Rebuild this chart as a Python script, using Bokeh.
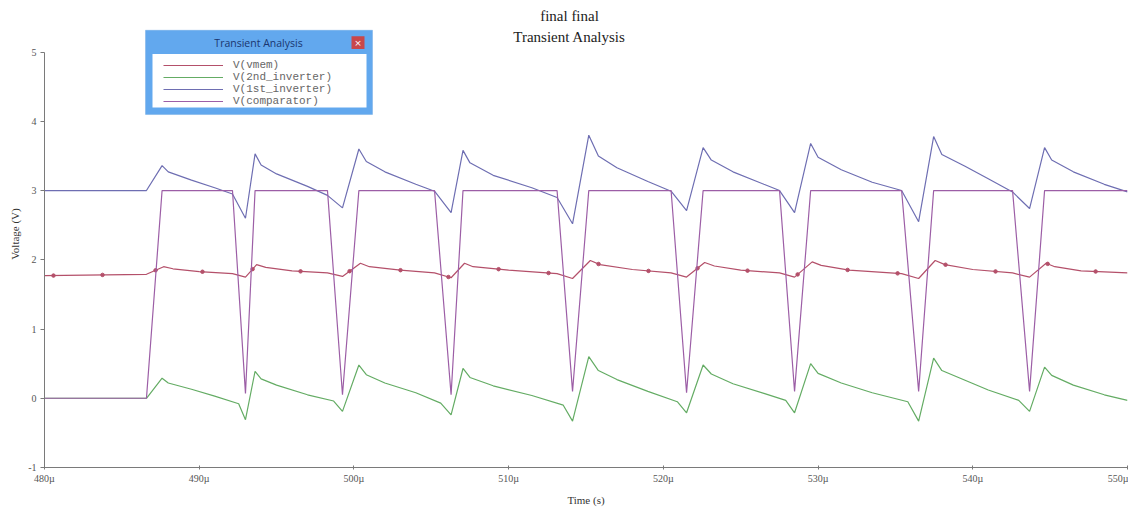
import numpy as np
from bokeh.plotting import figure
from bokeh.models import (Range1d, FixedTicker, Label, BoxAnnotation, Legend,
                          LegendItem)
from bokeh.embed import file_html
from bokeh.resources import INLINE

# ---------------- data (time in µs, voltage in V) ----------------
time_ticks = [480, 490, 500, 510, 520, 530, 540, 550]
time_tick_labels = ["480µ", "490µ", "500µ", "510µ", "520µ", "530µ", "540µ", "550µ"]
volt_ticks = [-1, 0, 1, 2, 3, 4, 5]
volt_tick_labels = ["-1", "0", "1", "2", "3", "4", "5"]

comparator_t = [480, 486.59, 487.60, 492.15, 492.99, 493.61, 498.29, 499.26, 500.32,
                505.21, 506.28, 507.05, 513.13, 514.13, 515.18, 520.50, 521.50, 522.57,
                527.51, 528.48, 529.52, 535.40, 536.50, 537.47, 542.57, 543.67, 544.64, 550]
comparator_v = [0.0, 0.0, 3.0, 3.0, 0.07, 3.0, 3.0, 0.05, 3.0,
                3.0, 0.05, 3.0, 3.0, 0.10, 3.0, 3.0, 0.08, 3.0,
                3.0, 0.10, 3.0, 3.0, 0.10, 3.0, 3.0, 0.10, 3.0, 3.0]

inv1_t = [480, 486.59, 487.60, 488.0, 489.5, 491.0, 492.15, 492.99,
          493.61, 494.0, 495.0, 497.0, 498.29, 499.26,
          500.32, 500.8, 502.0, 504.0, 505.21, 506.28,
          507.05, 507.5, 509.0, 511.5, 513.13, 514.13,
          515.18, 515.8, 517.0, 519.0, 520.50, 521.50,
          522.57, 523.1, 524.5, 526.5, 527.51, 528.48,
          529.52, 530.0, 531.5, 533.5, 535.40, 536.50,
          537.47, 538.0, 539.5, 541.0, 542.57, 543.67,
          544.64, 545.1, 546.5, 548.5, 550]
inv1_v = [3.0, 3.0, 3.36, 3.27, 3.15, 3.04, 2.95, 2.60,
          3.53, 3.37, 3.24, 3.06, 2.93, 2.75,
          3.60, 3.42, 3.27, 3.09, 2.99, 2.68,
          3.58, 3.40, 3.22, 3.04, 2.90, 2.52,
          3.80, 3.50, 3.33, 3.13, 2.99, 2.71,
          3.62, 3.44, 3.27, 3.09, 3.00, 2.68,
          3.68, 3.48, 3.30, 3.12, 3.00, 2.55,
          3.78, 3.52, 3.35, 3.17, 2.98, 2.74,
          3.62, 3.44, 3.27, 3.09, 2.98]

inv2_t = [480, 486.59, 487.60, 488.0, 489.5, 491.0, 492.55, 492.99,
          493.61, 494.0, 495.0, 497.0, 498.69, 499.26,
          500.32, 500.8, 502.0, 504.0, 505.61, 506.28,
          507.05, 507.5, 509.0, 511.5, 513.53, 514.13,
          515.18, 515.8, 517.0, 519.0, 520.90, 521.50,
          522.57, 523.1, 524.5, 526.5, 527.91, 528.48,
          529.52, 530.0, 531.5, 533.5, 535.80, 536.50,
          537.47, 538.0, 539.5, 541.0, 542.97, 543.67,
          544.64, 545.1, 546.5, 548.5, 550]
inv2_v = [0.0, 0.0, 0.29, 0.22, 0.13, 0.03, -0.08, -0.31,
          0.39, 0.28, 0.19, 0.05, -0.04, -0.19,
          0.48, 0.34, 0.22, 0.08, -0.07, -0.24,
          0.43, 0.30, 0.18, 0.04, -0.10, -0.33,
          0.60, 0.40, 0.27, 0.10, -0.05, -0.21,
          0.48, 0.35, 0.21, 0.07, -0.03, -0.21,
          0.50, 0.36, 0.22, 0.08, -0.05, -0.33,
          0.58, 0.40, 0.26, 0.12, -0.03, -0.19,
          0.45, 0.33, 0.19, 0.05, -0.03]

vmem_t = [480, 486.59, 487.70, 488.3, 490.0, 492.15, 492.99,
          493.71, 494.3, 496.0, 498.29, 499.26,
          500.42, 501.0, 503.0, 505.21, 506.28,
          507.15, 507.7, 510.0, 513.13, 514.13,
          515.28, 515.9, 518.0, 520.50, 521.50,
          522.67, 523.3, 525.0, 527.51, 528.48,
          529.62, 530.2, 532.0, 535.40, 536.50,
          537.57, 538.2, 540.0, 542.57, 543.67,
          544.74, 545.3, 547.0, 550]
vmem_v = [1.77, 1.79, 1.90, 1.87, 1.83, 1.80, 1.75,
          1.93, 1.89, 1.84, 1.81, 1.76,
          1.95, 1.90, 1.85, 1.81, 1.74,
          1.95, 1.90, 1.85, 1.80, 1.73,
          1.99, 1.93, 1.86, 1.81, 1.75,
          1.96, 1.91, 1.85, 1.81, 1.75,
          1.97, 1.92, 1.85, 1.80, 1.73,
          1.99, 1.93, 1.86, 1.81, 1.75,
          1.95, 1.90, 1.84, 1.81]
vmem_marker_t = [480.58, 483.75, 487.18, 490.21, 493.45, 496.55, 499.72, 503.01,
                 506.11, 509.35, 512.58, 515.81, 519.04, 522.21, 525.44, 528.68,
                 531.91, 535.14, 538.24, 541.47, 544.84, 547.94]

series_names = ["V(vmem)", "V(2nd_inverter)", "V(1st_inverter)", "V(comparator)"]

# ---------------- styling ----------------
C_VMEM = "#b4506a"
C_INV2 = "#64ac64"
C_INV1 = "#6e6eb2"
C_COMP = "#9c5ea6"

W, H = 1128, 508
FL, FR, FB = 44, 1127, 471
AX_TOP = 52                     # pixel row of the 5 V tick
X0, X1, Y0, YMAX = 480, 550, -1, 5
PX_PER_V = (FB - AX_TOP) / (YMAX - Y0)
Y1 = YMAX + AX_TOP / PX_PER_V   # frame reaches the top of the canvas


def tx(px):
    return X0 + (px - FL) * (X1 - X0) / (FR - FL)


def vy(py):
    return Y1 - py / PX_PER_V


p = figure(width=W, height=H, output_backend="svg", toolbar_location=None,
           x_range=Range1d(X0, X1), y_range=Range1d(Y0, Y1),
           min_border_left=FL, min_border_right=W - FR,
           min_border_top=0, min_border_bottom=H - FB)
p.outline_line_color = None
p.grid.visible = False
p.background_fill_color = "white"
p.border_fill_color = "white"

SERIF = "Liberation Serif"
for ax in (p.xaxis[0], p.yaxis[0]):
    ax.axis_line_color = "#7a7a7a"
    ax.major_tick_line_color = "#7a7a7a"
    ax.minor_tick_line_color = None
    ax.major_label_text_font = SERIF
    ax.major_label_text_font_size = "10px"
    ax.major_label_text_color = "#555555"
    ax.axis_label_text_font = SERIF
    ax.axis_label_text_font_size = "11px"
    ax.axis_label_text_font_style = "normal"
    ax.axis_label_text_color = "#333333"

p.xaxis.ticker = FixedTicker(ticks=time_ticks)
p.xaxis.major_label_overrides = dict(zip(time_ticks, time_tick_labels))
p.xaxis.major_tick_in = 2
p.xaxis.major_tick_out = 2
p.xaxis.major_label_standoff = 3
p.xaxis.axis_label = "Time (s)"
p.xaxis.axis_label_standoff = 7

p.yaxis.ticker = FixedTicker(ticks=volt_ticks)
p.yaxis.major_label_overrides = dict(zip(volt_ticks, volt_tick_labels))
p.yaxis.bounds = (Y0, YMAX)
p.yaxis.major_tick_in = 0
p.yaxis.major_tick_out = 4
p.yaxis.major_label_standoff = 4
p.yaxis.axis_label = "Voltage (V)"
p.yaxis.axis_label_standoff = 4

# ---------------- traces ----------------
LW = 1.2
r_inv1 = p.line(inv1_t, inv1_v, line_color=C_INV1, line_width=LW)
r_inv2 = p.line(inv2_t, inv2_v, line_color=C_INV2, line_width=LW)
r_vmem = p.line(vmem_t, vmem_v, line_color=C_VMEM, line_width=LW)
p.scatter(vmem_marker_t, np.interp(vmem_marker_t, vmem_t, vmem_v), marker="circle",
          size=3.5, fill_color=C_VMEM, line_color=C_VMEM)
r_comp = p.line(comparator_t, comparator_v, line_color=C_COMP, line_width=LW)

# ---------------- title ----------------
p.add_layout(Label(x=tx(569), y=vy(16), text="final final", text_align="center",
                   text_baseline="middle", text_font=SERIF, text_font_size="15px",
                   text_color="#222222"))
p.add_layout(Label(x=tx(569), y=vy(37), text="Transient Analysis", text_align="center",
                   text_baseline="middle", text_font=SERIF, text_font_size="15px",
                   text_color="#222222"))

# ---------------- legend window ----------------
p.add_layout(BoxAnnotation(left=tx(145), right=tx(372), top=vy(30), bottom=vy(115),
                           fill_color="#62a8ee", fill_alpha=1.0, line_color="#4f95dc",
                           line_width=1, level="overlay"))
p.add_layout(BoxAnnotation(left=tx(152), right=tx(366), top=vy(54), bottom=vy(108),
                           fill_color="white", fill_alpha=1.0, line_color=None,
                           level="overlay"))
p.add_layout(BoxAnnotation(left=tx(351), right=tx(364), top=vy(36), bottom=vy(49),
                           fill_color="#c9474a", fill_alpha=1.0, line_color=None,
                           level="overlay"))
p.add_layout(Label(x=tx(357.5), y=vy(42.5), text="×", text_align="center",
                   text_baseline="middle", text_font="DejaVu Sans", text_font_size="9px",
                   text_color="white", level="overlay"))
p.add_layout(Label(x=tx(258), y=vy(43), text="Transient Analysis", text_align="center",
                   text_baseline="middle", text_font="Open Sans", text_font_size="10.5px",
                   text_color="#1a3670", level="overlay"))

legend = Legend(items=[LegendItem(label=series_names[0], renderers=[r_vmem]),
                       LegendItem(label=series_names[1], renderers=[r_inv2]),
                       LegendItem(label=series_names[2], renderers=[r_inv1]),
                       LegendItem(label=series_names[3], renderers=[r_comp])],
                location=(163 - FL, FB - 111))
legend.background_fill_alpha = 0
legend.border_line_color = None
legend.padding = 0
legend.margin = 0
legend.spacing = 0
legend.glyph_width = 60
legend.glyph_height = 12
legend.label_height = 12
legend.label_standoff = 10
legend.label_text_font = "Liberation Mono"
legend.label_text_font_size = "11px"
legend.label_text_color = "#666666"
legend.label_text_line_height = 1.0
p.add_layout(legend)

open("out.html", "w").write(file_html(p, INLINE))
